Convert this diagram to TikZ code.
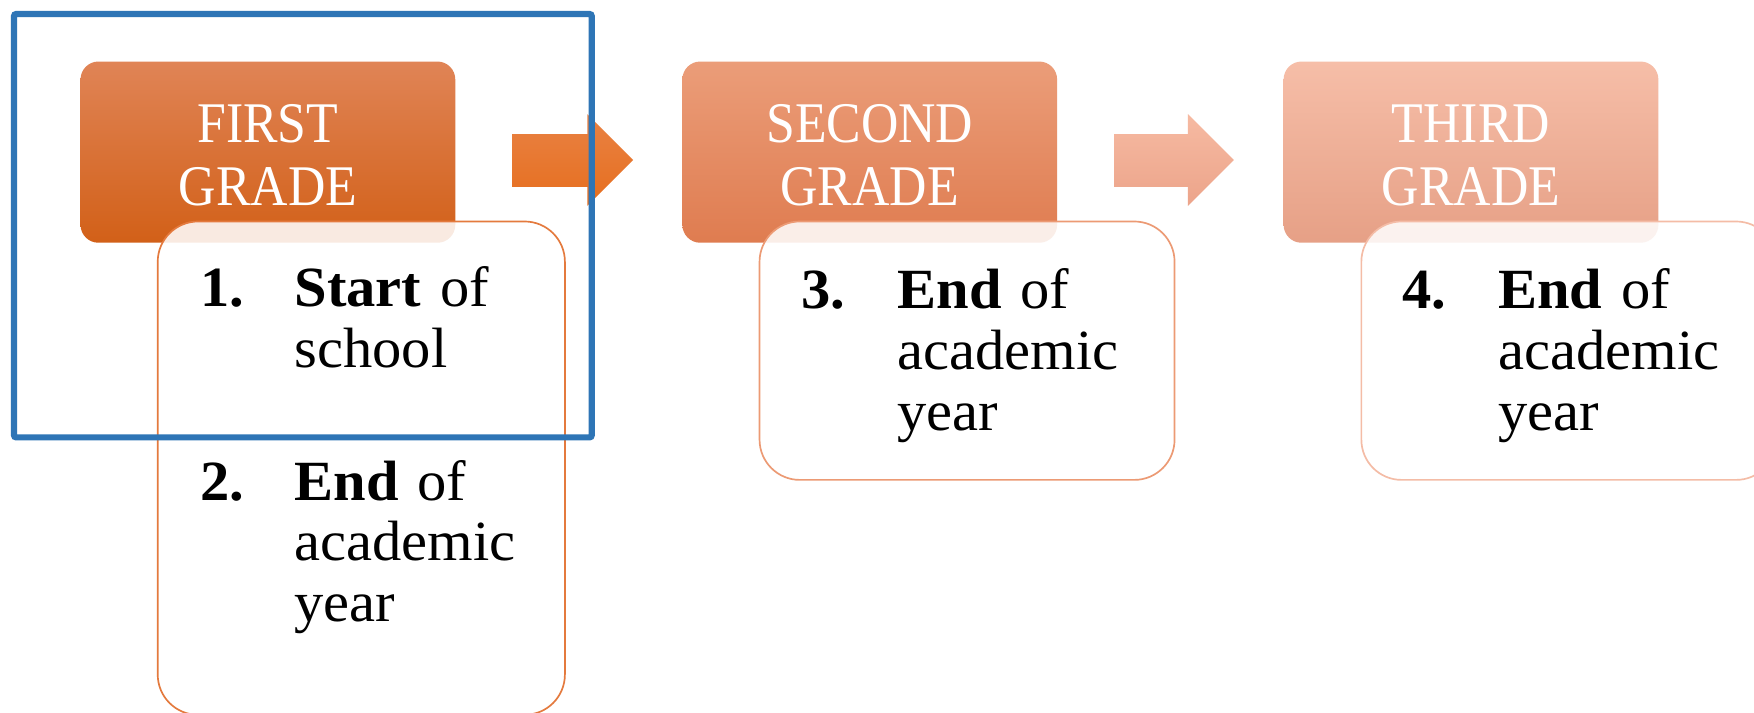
\documentclass[tikz,border=0pt]{standalone}
\usepackage{fontspec}
\setmainfont{Liberation Serif}
\newfontfamily\headfont[FakeStretch=0.9]{Liberation Serif}
\newfontfamily\bodyfont[FakeStretch=1.03]{Liberation Serif}

% header gradients
\definecolor{gOneTop}{RGB}{224,132,86}
\definecolor{gOneBot}{RGB}{210,96,24}
\definecolor{gTwoTop}{RGB}{235,157,121}
\definecolor{gTwoBot}{RGB}{223,124,80}
\definecolor{gThrTop}{RGB}{246,190,168}
\definecolor{gThrBot}{RGB}{230,160,134}
% block arrows
\definecolor{aOneTop}{RGB}{233,130,68}
\definecolor{aOneBot}{RGB}{230,110,30}
\definecolor{aTwoTop}{RGB}{246,186,162}
\definecolor{aTwoBot}{RGB}{236,164,138}
% item box outlines
\definecolor{bOne}{RGB}{228,122,62}
\definecolor{bTwo}{RGB}{236,154,116}
\definecolor{bThr}{RGB}{244,188,166}
\definecolor{frameblue}{RGB}{46,117,182}

\begin{document}
\begin{tikzpicture}[x=0.5pt,y=-0.5pt,
  grade/.style={rounded corners=8pt, minimum width=167.5pt, minimum height=81pt, inner sep=0pt},
  gradetext/.style={text=white, font=\headfont\fontsize{25.7}{28.3}\selectfont,
    text width=160pt, align=center, anchor=base, inner sep=0pt},
  itembox/.style={draw, line width=0.75pt, fill=white, fill opacity=0.87,
    draw opacity=1, rounded corners=18pt, inner sep=0pt},
  num/.style={font=\bodyfont\bfseries\fontsize{25.4}{27.2}\selectfont,
    anchor=base west, inner sep=0pt},
  itemtext/.style={font=\bodyfont\fontsize{25.4}{27.2}\selectfont,
    anchor=base west, inner sep=0pt, text width=130pt, align=left},
]
\clip (0,0) rectangle (1568,637);
\fill[white] (0,0) rectangle (1568,637);

% grade headers
\node[grade, top color=gOneTop, bottom color=gOneBot] (h1) at (239.5,136) {};
\node[grade, top color=gTwoTop, bottom color=gTwoBot] (h2) at (777.5,136) {};
\node[grade, top color=gThrTop, bottom color=gThrBot] (h3) at (1315,136) {};

\node[gradetext] (t1) at (239.5,127) {FIRST\\GRADE};
\node[gradetext] (t2) at (777.5,127) {SECOND\\GRADE};
\node[gradetext] (t3) at (1315,127) {THIRD\\GRADE};

% block arrows between the headers
\path[top color=aOneTop, bottom color=aOneBot]
  (458,120) -- (525,120) -- (525,102) -- (566,143) -- (525,184) -- (525,167) -- (458,167) -- cycle;
\path[top color=aTwoTop, bottom color=aTwoBot]
  (996,120) -- (1062,120) -- (1062,102) -- (1103,143) -- (1062,184) -- (1062,167) -- (996,167) -- cycle;

% item boxes
\node[itembox, draw=bOne, minimum width=182pt, minimum height=220.5pt] (b1) at (323,418.5) {};
\node[itembox, draw=bTwo, minimum width=185.5pt, minimum height=115.5pt] (b2) at (864.5,313.5) {};
\node[itembox, draw=bThr, minimum width=185.5pt, minimum height=115.5pt] (b3) at (1402.5,313.5) {};

% items
\node[num] (n1) at (179,274) {1.};
\node[itemtext] (i1) at (263,274) {\textbf{Start} of\\school};
\node[num] (n2) at (179,447) {2.};
\node[itemtext] (i2) at (263,447) {\textbf{End} of\\academic\\year};
\node[num] (n3) at (716,276) {3.};
\node[itemtext] (i3) at (802,276) {\textbf{End} of\\academic\\year};
\node[num] (n4) at (1253,276) {4.};
\node[itemtext] (i4) at (1339,276) {\textbf{End} of\\academic\\year};

% highlight frame
\draw[frameblue, line width=2.75pt, rounded corners=1pt] (12.5,12.5) rectangle (529,391);
\end{tikzpicture}
\end{document}
